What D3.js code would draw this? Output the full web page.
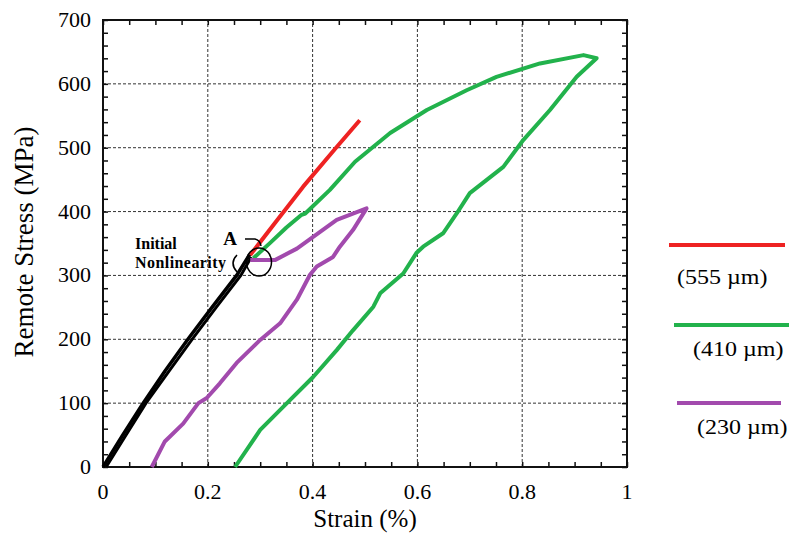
<!DOCTYPE html>
<html>
<head>
<meta charset="utf-8">
<script src="https://cdn.jsdelivr.net/npm/d3@7"></script>
<style>
  body { margin: 0; background: #fff; }
  svg { display: block; }
</style>
</head>
<body>
<div id="chart"></div>
<script>
var width = 789, height = 533;

// strain (%), remote stress (MPa)
var blackLoad = [[0, 0], [0.036, 48], [0.075, 98], [0.118, 150], [0.162, 200], [0.208, 250], [0.255, 300], [0.28, 333]];
var blackUnload = [[0.283, 329], [0.263, 300], [0.216, 250], [0.17, 200], [0.126, 150], [0.082, 100], [0.044, 50], [0.006, 0]];
var red555 = [[0.281, 332], [0.33, 384], [0.382, 439], [0.446, 501], [0.49, 543]];
var green410 = [[0.287, 327], [0.319, 351], [0.35, 375], [0.379, 395], [0.386, 397], [0.433, 434], [0.481, 478],
    [0.548, 523], [0.618, 559], [0.694, 590], [0.751, 611], [0.834, 632], [0.917, 645], [0.942, 640],
    [0.904, 611], [0.853, 559], [0.802, 512], [0.764, 470], [0.7, 429], [0.675, 397], [0.649, 366],
    [0.611, 345], [0.598, 335], [0.573, 303], [0.529, 272], [0.516, 251], [0.477, 214], [0.446, 183],
    [0.401, 141], [0.351, 100], [0.3, 58], [0.252, 0]];
var purple230 = [[0.281, 324], [0.328, 324], [0.37, 342], [0.446, 387], [0.503, 405],
    [0.477, 371], [0.452, 345], [0.439, 329], [0.408, 314], [0.395, 301], [0.37, 262], [0.338, 225],
    [0.3, 199], [0.255, 163], [0.223, 131], [0.198, 108], [0.182, 100], [0.153, 68], [0.118, 40], [0.093, 0]];

var xTicks = [0, 0.2, 0.4, 0.6, 0.8, 1];
var xTickLabels = ["0", "0.2", "0.4", "0.6", "0.8", "1"];
var yTicks = [0, 100, 200, 300, 400, 500, 600, 700];
var legendColors = ["#ee2222", "#22b24c", "#a24aad"];
var legendLabels = ["(555 \u00b5m)", "(410 \u00b5m)", "(230 \u00b5m)"];

var svg = d3.select("#chart").append("svg")
    .attr("width", width)
    .attr("height", height);

var x = d3.scaleLinear().domain([0, 1]).range([103, 627]);
var y = d3.scaleLinear().domain([0, 700]).range([467, 20]);

var serif = "'Liberation Serif', 'Times New Roman', serif";

// grid
svg.append("g").selectAll("line.vg")
    .data(xTicks.slice(1, -1))
    .enter().append("line")
    .attr("x1", d => x(d)).attr("x2", d => x(d))
    .attr("y1", y(0)).attr("y2", y(700))
    .attr("stroke", "#333").attr("stroke-width", 1)
    .attr("stroke-dasharray", "3,2");
svg.append("g").selectAll("line.hg")
    .data(yTicks.slice(1, -1))
    .enter().append("line")
    .attr("x1", x(0)).attr("x2", x(1))
    .attr("y1", d => y(d)).attr("y2", d => y(d))
    .attr("stroke", "#333").attr("stroke-width", 1)
    .attr("stroke-dasharray", "3,2");

// axes with inward ticks
var xMinor = d3.range(0, 1.0001, 0.05);
var yMinor = d3.range(0, 700.1, 20);

svg.append("g")
    .attr("transform", "translate(0," + y(0) + ")")
    .call(d3.axisTop(x).tickValues(xMinor).tickSize(5).tickFormat(""))
    .call(g => g.select(".domain").remove());
svg.append("g")
    .attr("transform", "translate(0," + y(700) + ")")
    .call(d3.axisBottom(x).tickValues(xMinor).tickSize(5).tickFormat(""))
    .call(g => g.select(".domain").remove());
svg.append("g")
    .attr("transform", "translate(" + x(0) + ",0)")
    .call(d3.axisRight(y).tickValues(yMinor).tickSize(5).tickFormat(""))
    .call(g => g.select(".domain").remove());
svg.append("g")
    .attr("transform", "translate(" + x(1) + ",0)")
    .call(d3.axisLeft(y).tickValues(yMinor).tickSize(5).tickFormat(""))
    .call(g => g.select(".domain").remove());
svg.selectAll(".tick line").attr("stroke", "#111").attr("stroke-width", 1.5);

// frame
svg.append("rect")
    .attr("x", x(0)).attr("y", y(700))
    .attr("width", x(1) - x(0)).attr("height", y(0) - y(700))
    .attr("fill", "none").attr("stroke", "#111").attr("stroke-width", 2);

// tick labels
svg.append("g").selectAll("text")
    .data(xTicks)
    .enter().append("text")
    .attr("x", d => x(d)).attr("y", 499)
    .attr("text-anchor", "middle")
    .attr("font-family", serif).attr("font-size", 22)
    .text((d, i) => xTickLabels[i]);
svg.append("g").selectAll("text")
    .data(yTicks)
    .enter().append("text")
    .attr("x", 91).attr("y", d => y(d) + 7)
    .attr("text-anchor", "end")
    .attr("font-family", serif).attr("font-size", 22)
    .text(d => d);

// axis titles
svg.append("text")
    .attr("x", 365).attr("y", 527)
    .attr("text-anchor", "middle")
    .attr("font-family", serif).attr("font-size", 25)
    .text("Strain (%)");
svg.append("text")
    .attr("transform", "translate(33,242) rotate(-90)")
    .attr("text-anchor", "middle")
    .attr("font-family", serif).attr("font-size", 27)
    .text("Remote Stress (MPa)");

// curves
var line = d3.line().x(d => x(d[0])).y(d => y(d[1]));

svg.append("path").datum(blackLoad).attr("d", line)
    .attr("fill", "none").attr("stroke", "#000").attr("stroke-width", 3.5);
svg.append("path").datum(blackUnload).attr("d", line)
    .attr("fill", "none").attr("stroke", "#000").attr("stroke-width", 3);
svg.append("path").datum(green410).attr("d", line)
    .attr("fill", "none").attr("stroke", legendColors[1]).attr("stroke-width", 4)
    .attr("stroke-linejoin", "round");
svg.append("path").datum(purple230).attr("d", line)
    .attr("fill", "none").attr("stroke", legendColors[2]).attr("stroke-width", 4)
    .attr("stroke-linejoin", "round");
svg.append("path").datum(red555).attr("d", line)
    .attr("fill", "none").attr("stroke", legendColors[0]).attr("stroke-width", 4)
    .attr("stroke-linejoin", "round");

// annotation
svg.append("ellipse")
    .attr("cx", 259).attr("cy", 262).attr("rx", 12.5).attr("ry", 14)
    .attr("fill", "none").attr("stroke", "#000").attr("stroke-width", 1.5);
svg.append("path")
    .attr("d", "M237,255 Q229,263 237,272")
    .attr("fill", "none").attr("stroke", "#000").attr("stroke-width", 1.5);
svg.append("path")
    .attr("d", "M245,239 L255,239 Q260,240 261,246")
    .attr("fill", "none").attr("stroke", "#000").attr("stroke-width", 1.5);
svg.append("text")
    .attr("x", 230).attr("y", 245)
    .attr("text-anchor", "middle")
    .attr("font-family", serif).attr("font-weight", "bold").attr("font-size", 19)
    .text("A");
svg.append("text")
    .attr("x", 135).attr("y", 249)
    .attr("font-family", serif).attr("font-weight", "bold").attr("font-size", 16)
    .text("Initial");
svg.append("text")
    .attr("x", 135).attr("y", 268)
    .attr("font-family", serif).attr("font-weight", "bold").attr("font-size", 16)
    .attr("textLength", 91)
    .text("Nonlinearity");

// legend
var legendY = [245, 325, 403];
var legendX1 = [669, 674, 677], legendX2 = [785, 789, 781];
var labelX = [677, 693, 697], labelY = [284, 356, 434];
var lg = svg.append("g");
lg.selectAll("line")
    .data(legendColors)
    .enter().append("line")
    .attr("x1", (d, i) => legendX1[i]).attr("x2", (d, i) => legendX2[i])
    .attr("y1", (d, i) => legendY[i]).attr("y2", (d, i) => legendY[i])
    .attr("stroke", d => d).attr("stroke-width", 4);
lg.selectAll("text")
    .data(legendLabels)
    .enter().append("text")
    .attr("transform", (d, i) => "translate(" + labelX[i] + "," + labelY[i] + ") scale(1.2,1)")
    .attr("font-family", serif).attr("font-size", 20)
    .text(d => d);
</script>
</body>
</html>
